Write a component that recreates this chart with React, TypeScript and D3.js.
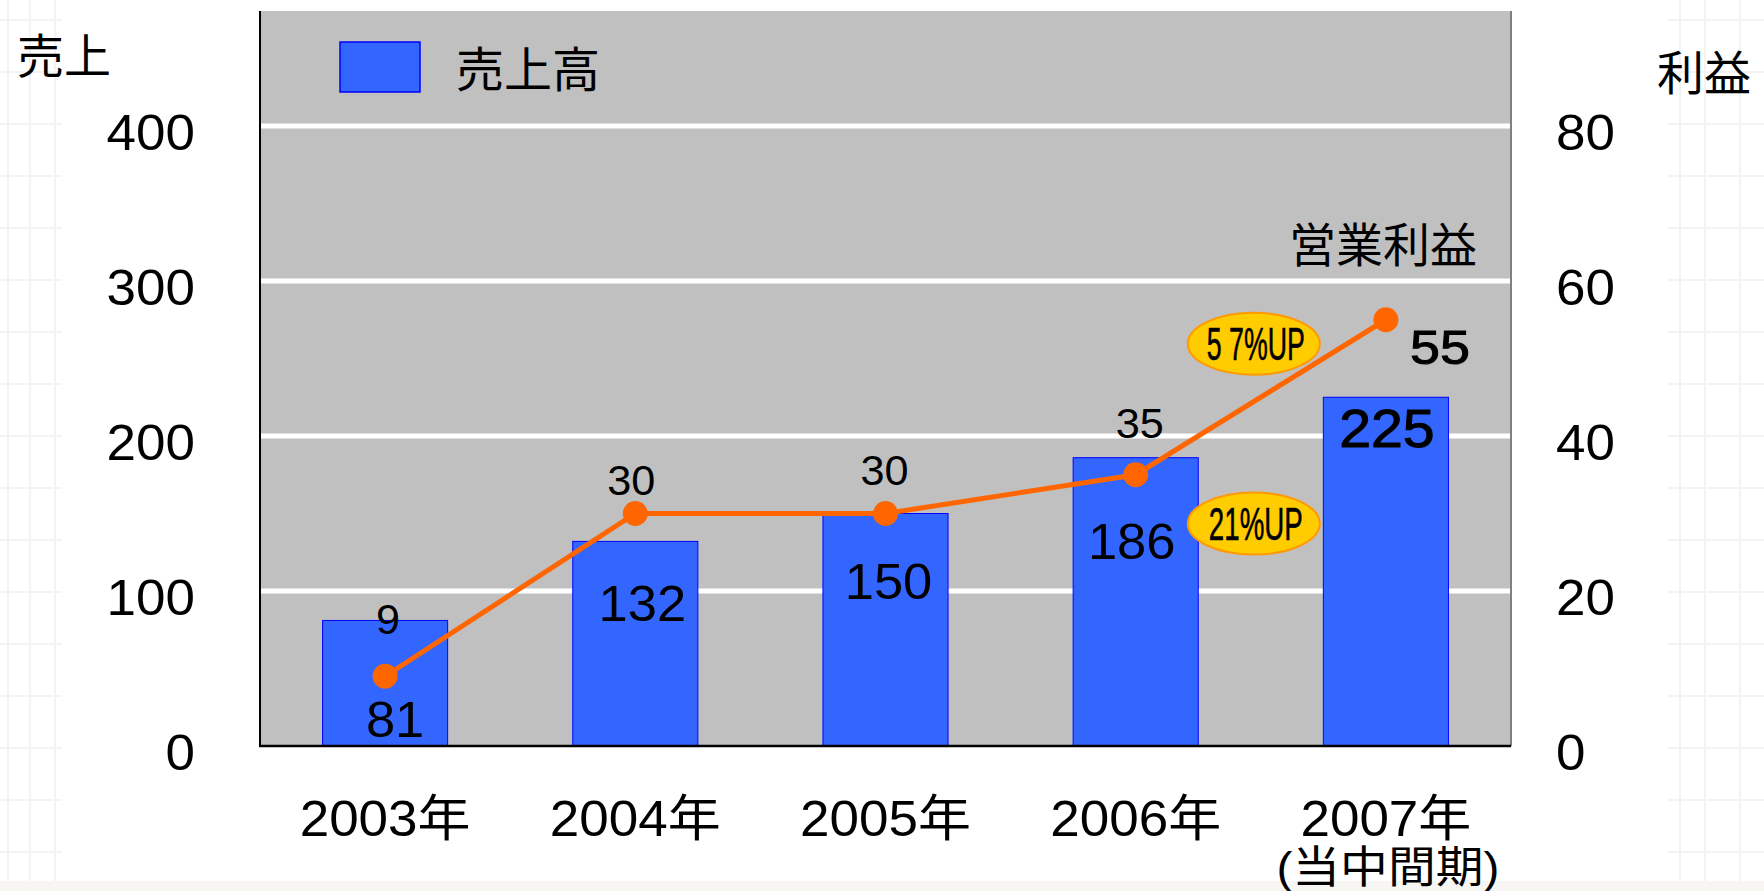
import React from "react";
import * as d3 from "d3";

const years = ["2003年", "2004年", "2005年", "2006年", "2007年"];
const yearSub = ["", "", "", "", "(当中間期)"];
const sales = [81, 132, 150, 186, 225];
const profit = [9, 30, 30, 35, 55];
const salesTicks = [0, 100, 200, 300, 400];
const profitTicks = [0, 20, 40, 60, 80];
const growthLabels = ["5 7%UP", "21%UP"];

const W = 1764;
const H = 891;
const FONT = "'Liberation Sans', Arial, 'Noto Sans CJK JP', sans-serif";
const NARROW = "'Liberation Sans Narrow', 'Liberation Sans', 'Noto Sans CJK JP', sans-serif";

function T(props: any) {
  const { x, y, sx = 1, children, ...rest } = props;
  return (
    <text transform={`translate(${x},${y}) scale(${sx},1)`} {...rest}>
      {children}
    </text>
  );
}

export default function App() {
  const left = 260, right = 1511, top = 11, bottom = 746;
  const x = d3.scaleBand<string>().domain(years).range([left, right]).paddingInner(0.5).paddingOuter(0.25);
  const yL = d3.scaleLinear().domain([0, 400]).range([bottom, 126]);
  const yR = d3.scaleLinear().domain([0, 80]).range([bottom, 126]);
  const cx = (i: number) => (x(years[i]) as number) + x.bandwidth() / 2;

  const line = d3.line<number>().x((_, i) => cx(i)).y((d) => yR(d));

  const salesDx = [10, 7, 3, -4, 1];
  const salesDy = [99, 63, 68, 84, 31];
  const profitDx = [3, -4, -1, 4, 54];
  const profitDy = [-57, -33, -43, -52, 27];

  const bgLinesX = [8, 30, 55, 1680, 1705, 1740];
  const bgLinesY = d3.range(20, 900, 52);

  return (
    <svg width={W} height={H} style={{ position: "absolute", left: 0, top: 0, background: "#fff" }} fontFamily={FONT}>
      <rect x={0} y={0} width={W} height={H} fill="#fff" />
      {/* faint background pattern */}
      <g stroke="#ececec" strokeWidth={2} opacity={0.6}>
        {bgLinesX.map((bx, i) => (
          <line key={"bx" + i} x1={bx} x2={bx} y1={0} y2={H} />
        ))}
        {bgLinesY.map((by, i) => (
          <g key={"by" + i}>
            <line x1={0} x2={62} y1={by} y2={by} />
            <line x1={1668} x2={W} y1={by} y2={by} />
          </g>
        ))}
      </g>
      <rect x={0} y={881} width={W} height={10} fill="#f7f6f2" />

      {/* plot area */}
      <rect x={left} y={top} width={right - left} height={bottom - top} fill="#c0c0c0" />
      {salesTicks.slice(1).map((t) => (
        <line key={t} x1={left} x2={right} y1={yL(t)} y2={yL(t)} stroke="#fff" strokeWidth={5} />
      ))}
      <line x1={right} x2={right} y1={top} y2={bottom} stroke="#808080" strokeWidth={2} />

      {/* bars */}
      {sales.map((v, i) => (
        <rect
          key={i}
          x={x(years[i]) as number}
          y={yL(v)}
          width={x.bandwidth()}
          height={bottom - yL(v)}
          fill="#3366FF"
          stroke="#0000FF"
          strokeWidth={1}
        />
      ))}

      {/* axes lines */}
      <line x1={left} x2={left} y1={top} y2={bottom} stroke="#000" strokeWidth={2} />
      <line x1={left - 1} x2={right} y1={bottom} y2={bottom} stroke="#000" strokeWidth={2.5} />

      {/* sales labels */}
      {sales.map((v, i) => (
        <T
          key={i}
          x={cx(i) + salesDx[i]}
          y={yL(v) + salesDy[i]}
          sx={i === 4 ? 1.08 : 1.05}
          textAnchor="middle"
          dominantBaseline="central"
          fontSize={i === 4 ? 53 : 50}
          stroke={i === 4 ? "#000" : "none"}
          strokeWidth={i === 4 ? 1 : 0}
        >
          {v}
        </T>
      ))}

      {/* profit line */}
      <path d={line(profit) as string} fill="none" stroke="#FF6600" strokeWidth={5} />
      {profit.map((v, i) => (
        <circle key={i} cx={cx(i)} cy={yR(v)} r={12.5} fill="#FF6600" />
      ))}
      {profit.map((v, i) => (
        <T
          key={i}
          x={cx(i) + profitDx[i]}
          y={yR(v) + profitDy[i]}
          sx={i === 4 ? 1.1 : 1.03}
          textAnchor="middle"
          dominantBaseline="central"
          fontSize={i === 4 ? 49 : 42}
          stroke={i === 4 ? "#000" : "none"}
          strokeWidth={i === 4 ? 1 : 0}
        >
          {v}
        </T>
      ))}

      {/* growth ellipses */}
      {growthLabels.map((t, i) => {
        const ex = (cx(3) + cx(4)) / 2 - 7;
        const ey = i === 0 ? yR(51.9) : yR(28.7);
        return (
          <g key={t}>
            <ellipse cx={ex} cy={ey} rx={66} ry={31} fill="#FFCC00" stroke="#FF9900" strokeWidth={2} />
            <text
              x={ex + 2}
              y={ey + 16}
              textAnchor="middle"
              fontFamily={NARROW}
              fontSize={46}
              textLength={i === 0 ? 98 : 94}
              lengthAdjust="spacingAndGlyphs"
              stroke="#000"
              strokeWidth={0.6}
            >
              {t}
            </text>
          </g>
        );
      })}

      {/* legend */}
      <rect x={340} y={42} width={80} height={50} fill="#3366FF" stroke="#0000FF" strokeWidth={1.5} />
      <text x={456} y={70} dominantBaseline="central" fontSize={48}>売上高</text>
      <text x={1477} y={245} textAnchor="end" dominantBaseline="central" fontSize={47}>営業利益</text>

      {/* left axis */}
      <text x={17} y={56} dominantBaseline="central" fontSize={47}>売上</text>
      {salesTicks.map((t) => (
        <T key={t} x={195} y={yL(t) + 7} sx={1.06} textAnchor="end" dominantBaseline="central" fontSize={50}>
          {t}
        </T>
      ))}

      {/* right axis */}
      <text x={1657} y={73} dominantBaseline="central" fontSize={47}>利益</text>
      {profitTicks.map((t) => (
        <T key={t} x={1556} y={yR(t) + 7} sx={1.06} textAnchor="start" dominantBaseline="central" fontSize={50}>
          {t}
        </T>
      ))}

      {/* x labels */}
      {years.map((yr, i) => (
        <g key={yr}>
          <T x={cx(i)} y={836} sx={1.06} textAnchor="middle" fontSize={50}>{yr}</T>
          {yearSub[i] && (
            <text
              x={cx(i) + 2}
              y={883}
              textAnchor="middle"
              fontSize={44}
              textLength={223}
              lengthAdjust="spacingAndGlyphs"
            >
              {yearSub[i]}
            </text>
          )}
        </g>
      ))}
    </svg>
  );
}
